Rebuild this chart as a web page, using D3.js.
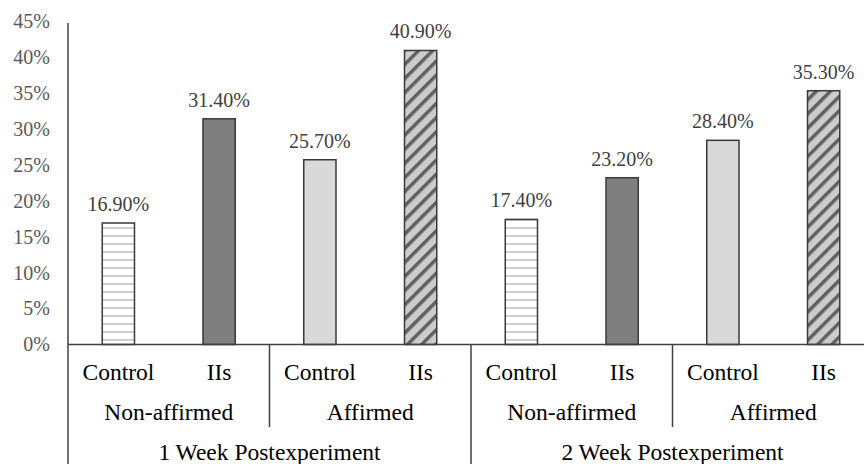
<!DOCTYPE html>
<html><head><meta charset="utf-8">
<script src="https://cdn.jsdelivr.net/npm/d3@7"></script>
<style>body{margin:0;background:#fff}svg{display:block}
svg text{font-family:"Liberation Serif","Times New Roman","DejaVu Serif",serif;}
</style>
</head><body>
<svg id="c" width="864" height="464"></svg>
<script>
const conditions = ["Control","IIs","Control","IIs","Control","IIs","Control","IIs"];
const affirmation = ["Non-affirmed","Affirmed","Non-affirmed","Affirmed"];
const timepoints = ["1 Week Postexperiment","2 Week Postexperiment"];
const values = [16.9, 31.4, 25.7, 40.9, 17.4, 23.2, 28.4, 35.3];
const valueLabels = ["16.90%","31.40%","25.70%","40.90%","17.40%","23.20%","28.40%","35.30%"];
const yTicks = [0,5,10,15,20,25,30,35,40,45];
const fills = ["url(#hz)","#7f7f7f","#d9d9d9","url(#dg)"];

const svg = d3.select("#c");
const defs = svg.append("defs");
const hz = defs.append("pattern").attr("id","hz").attr("patternUnits","userSpaceOnUse")
  .attr("width",8).attr("height",8);
hz.append("rect").attr("width",8).attr("height",8).attr("fill","#fff");
hz.append("rect").attr("y",3).attr("width",8).attr("height",2).attr("fill","#cfcfcf");
const dg = defs.append("pattern").attr("id","dg").attr("patternUnits","userSpaceOnUse")
  .attr("width",10).attr("height",10).attr("patternTransform","rotate(45)");
dg.append("rect").attr("width",10).attr("height",10).attr("fill","#cccccc");
dg.append("rect").attr("x",0).attr("width",3.5).attr("height",10).attr("fill","#606060");

const x0 = 68, x1 = 874, yBase = 344.5;
const x = d3.scaleBand().domain(d3.range(8)).range([x0,x1]).paddingInner(0.68).paddingOuter(0.34);
const y = d3.scaleLinear().domain([0,45]).range([yBase,21]);

const yAxis = d3.axisLeft(y).tickValues(yTicks).tickFormat(d=>d+"%").tickSize(0).tickPadding(18);
const ga = svg.append("g").attr("transform",`translate(${x0},0)`).call(yAxis);
ga.attr("font-family",null);
ga.select(".domain").remove();
ga.selectAll("text").attr("font-size",20).attr("fill","#595959");

svg.append("line").attr("x1",x0).attr("x2",x0).attr("y1",y(45)+2).attr("y2",464)
  .attr("stroke","#404040").attr("stroke-width",1.5);

svg.selectAll("rect.bar").data(values).join("rect").attr("class","bar")
  .attr("x",(d,i)=>x(i)).attr("width",x.bandwidth())
  .attr("y",d=>y(d)).attr("height",d=>yBase-y(d))
  .attr("fill",(d,i)=>fills[i%4]).attr("stroke","#3a3a3a").attr("stroke-width",1.5);

svg.selectAll("text.val").data(values).join("text").attr("class","val")
  .attr("x",(d,i)=>x(i)+x.bandwidth()/2).attr("y",d=>y(d)-12)
  .attr("text-anchor","middle").attr("font-size",20).attr("fill","#404040")
  .text((d,i)=>valueLabels[i]);

svg.append("line").attr("x1",x0).attr("x2",864).attr("y1",yBase).attr("y2",yBase)
  .attr("stroke","#404040").attr("stroke-width",1.5);

const step = (x1-x0)/8;
svg.selectAll("text.cat").data(conditions).join("text").attr("class","cat")
  .attr("x",(d,i)=>x(i)+x.bandwidth()/2).attr("y",380)
  .attr("text-anchor","middle").attr("font-size",23.5).attr("fill","#000")
  .text(d=>d);
svg.selectAll("text.aff").data(affirmation).join("text").attr("class","aff")
  .attr("x",(d,i)=>x0+step*(2*i+1)).attr("y",420)
  .attr("text-anchor","middle").attr("font-size",23.5).attr("fill","#000")
  .text(d=>d);
svg.selectAll("text.tp").data(timepoints).join("text").attr("class","tp")
  .attr("x",(d,i)=>x0+step*(4*i+2)).attr("y",460)
  .attr("text-anchor","middle").attr("font-size",23.5).attr("fill","#000")
  .text(d=>d);

svg.selectAll("line.sepA").data([0,1,2,3]).join("line").attr("class","sepA")
  .attr("x1",i=>x0+step*(2*i+2)).attr("x2",i=>x0+step*(2*i+2))
  .attr("y1",yBase).attr("y2",i=>i%2===0?427:464)
  .attr("stroke","#404040").attr("stroke-width",1.5);
</script>
</body></html>
